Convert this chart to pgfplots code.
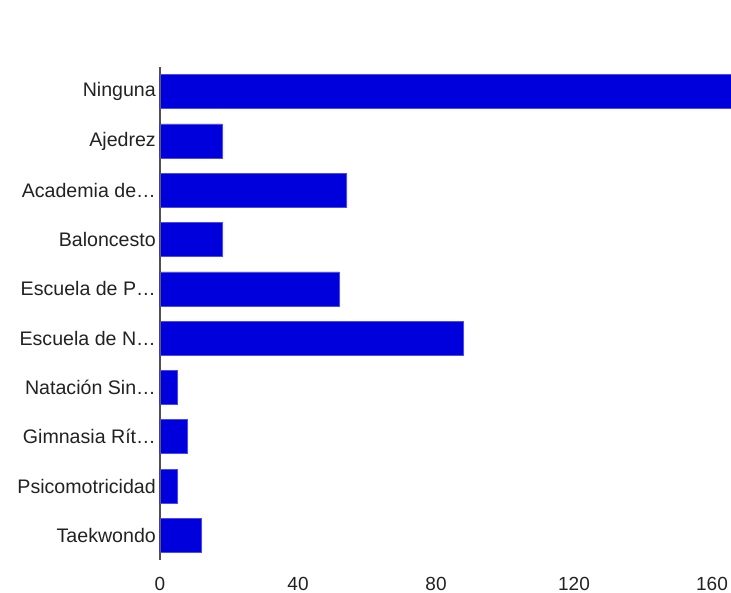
\documentclass[border=0pt]{standalone}
\usepackage{fontspec}
\setmainfont{Liberation Sans}
\usepackage{pgfplots}
\pgfplotsset{compat=1.18}
\definecolor{barblue}{RGB}{0,0,220}
\definecolor{txt}{RGB}{34,34,34}
\definecolor{axisgray}{RGB}{80,80,80}

\begin{document}
\begin{tikzpicture}
\path[use as bounding box] (-160bp,-33bp) rectangle (571bp,560bp);
\begin{axis}[
    at={(0,0)}, anchor=south west,
    scale only axis,
    width=571bp, height=493bp,
    xbar,
    bar width=34bp,
    xmin=0, xmax=165.5,
    ymin=-0.5, ymax=9.5,
    y dir=reverse,
    ytick={0,...,9},
    yticklabels={Ninguna,Ajedrez,Academia de…,Baloncesto,Escuela de P…,Escuela de N…,Natación Sin…,Gimnasia Rít…,Psicomotricidad,Taekwondo},
    xtick={0,40,80,120,160},
    major tick length=0pt,
    separate axis lines,
    axis x line*=bottom,
    axis y line*=left,
    x axis line style={draw=none},
    y axis line style={draw=axisgray, line width=1.2bp, -},
    tick label style={font=\fontsize{19.6bp}{23bp}\selectfont, text=txt, inner sep=0pt},
    yticklabel style={anchor=east, xshift=-4bp},
    xticklabel style={anchor=north, yshift=-17bp, font=\fontsize{19bp}{23bp}\selectfont},
    /pgf/number format/assume math mode=true,
    clip=true,
]
\addplot[fill=barblue, draw=barblue!70!white, line width=0.6bp] coordinates {
    (190,0) (18,1) (54,2) (18,3) (52,4) (88,5) (5,6) (8,7) (5,8) (12,9)
};
\end{axis}
\end{tikzpicture}
\end{document}
